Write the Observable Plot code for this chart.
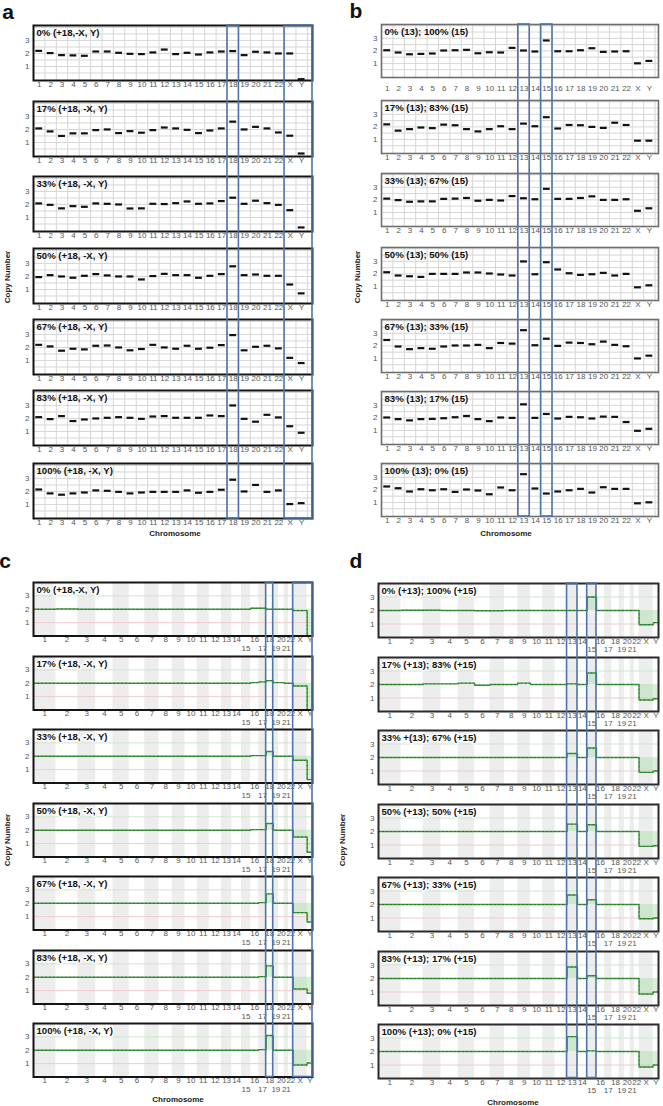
<!DOCTYPE html>
<html><head><meta charset="utf-8">
<script src="https://cdn.jsdelivr.net/npm/d3@7"></script>
<script src="https://cdn.jsdelivr.net/npm/@observablehq/plot@0.6"></script>
<style>
body{margin:0;background:#fff;}
#fig{position:relative;width:663px;height:1106px;overflow:hidden;background:#fff;font-family:"Liberation Sans",Arial,sans-serif;}
#fig svg{position:absolute;overflow:visible;}
</style></head>
<body><div id="fig"></div>
<script>
// ---------- DATA ----------
const chromosomes = ["1","2","3","4","5","6","7","8","9","10","11","12","13","14","15","16","17","18","19","20","21","22","X","Y"];
const chromLengthMb = [249.25,243.2,198.0,191.15,180.9,171.1,159.1,146.4,141.2,135.5,135.0,133.85,115.2,107.35,102.5,90.35,81.2,78.1,59.1,63.0,48.1,51.3,155.3,59.4];
const shadedChromosomes = ["1","3","5","7","9","11","13","15","17","19","21","X"];
const secondLineLabels = ["15","17","19","21"];

const aLabels = ["0% (+18,-X, Y)","17% (+18, -X, Y)","33% (+18, -X, Y)","50% (+18, -X, Y)","67% (+18, -X, Y)","83% (+18, -X, Y)","100% (+18, -X, Y)"];
const aValues = [
  [2.2,2.03,1.87,1.85,1.82,2.15,2.15,2.05,1.97,1.95,2.08,2.3,1.95,2.05,1.92,2.08,2.15,2.18,1.87,2.13,2.08,2.0,2.0,0.02],
  [2.08,1.85,1.5,1.7,1.7,1.95,2.0,1.72,1.87,1.75,1.95,2.15,2.08,1.97,1.72,1.92,2.08,2.6,2.0,2.2,2.08,1.77,1.52,0.15],
  [2.08,1.97,1.7,1.87,1.82,2.08,2.05,2.0,1.69,1.7,2.05,2.03,2.1,2.23,2.05,2.08,2.26,2.52,2.05,2.29,2.1,1.97,1.56,0.23],
  [1.95,2.1,2.0,1.9,2.05,2.18,2.08,2.0,2.0,1.77,2.03,2.2,2.1,2.1,1.9,2.05,2.18,2.78,2.1,2.15,2.05,2.05,1.38,0.7],
  [2.2,2.08,1.75,1.9,1.85,2.13,2.15,2.0,1.78,1.88,2.2,2.0,1.9,2.13,1.9,1.98,2.18,2.95,1.78,2.05,2.13,1.93,1.2,0.8],
  [2.1,1.95,2.18,1.8,1.92,2.0,2.05,2.1,2.05,1.97,2.15,2.18,2.05,2.05,2.05,2.23,2.18,3.0,1.97,1.75,2.28,2.08,1.4,0.9],
  [2.15,1.85,1.75,1.85,1.92,2.08,2.05,1.97,1.85,1.92,1.97,1.97,1.97,2.08,1.9,1.97,2.13,2.9,2.0,2.5,1.97,2.08,1.03,1.1]
];
const aHighlight = [["18"],["X","Y"]];

const bLabels = ["0% (13); 100% (15)","17% (13); 83% (15)","33% (13); 67% (15)","50% (13); 50% (15)","67% (13); 33% (15)","83% (13); 17% (15)","100% (13); 0% (15)"];
const bValues = [
  [2.05,1.87,1.73,1.76,1.79,2.03,2.05,2.08,1.81,1.89,1.87,2.24,2.03,1.95,2.83,1.97,1.97,2.05,2.21,1.92,1.95,1.97,1.01,1.2],
  [2.2,1.7,1.82,1.95,1.9,2.18,2.13,1.82,1.64,1.82,2.05,1.82,2.26,2.05,2.77,1.87,2.15,2.13,2.0,1.92,2.33,2.15,0.9,0.9],
  [2.1,1.98,1.85,1.88,1.88,2.08,2.1,2.15,1.93,2.0,1.95,2.3,2.13,2.05,2.88,2.08,2.08,2.15,2.28,2.0,2.0,2.05,1.13,1.33],
  [2.13,1.87,1.81,1.76,2.0,2.0,2.0,2.11,2.11,2.03,1.95,1.87,2.99,1.97,2.93,2.35,2.05,1.92,1.97,2.08,1.87,2.0,0.93,1.09],
  [2.47,1.95,1.74,1.82,1.77,1.95,2.03,2.03,2.08,1.82,2.23,2.18,3.25,2.05,2.57,2.0,2.26,2.23,2.13,2.34,2.08,1.97,1.0,1.22],
  [2.03,1.9,1.8,1.9,1.92,1.97,2.05,2.15,1.9,1.74,2.03,2.0,3.08,2.0,2.31,1.95,2.08,2.05,1.95,2.1,2.08,1.67,0.97,1.13],
  [2.27,2.13,1.87,2.05,1.97,2.05,1.84,2.03,1.95,1.65,2.19,1.97,3.25,2.11,1.71,1.87,1.97,2.08,1.79,2.21,2.08,2.08,0.93,1.01]
];
const bHighlight = [["13"],["15"]];

const cLabels = ["0% (+18,-X, Y)","17% (+18, -X, Y)","33% (+18, -X, Y)","50% (+18, -X, Y)","67% (+18, -X, Y)","83% (+18, -X, Y)","100% (+18, -X, Y)"];
const cValues = [
  [2.0,2.02,2.0,2.0,2.0,2.0,2.0,2.0,2.0,2.0,2.0,2.0,2.0,2.0,2.0,2.08,2.08,2.0,2.0,2.0,2.0,2.0,1.9,0.0],
  [2.0,2.0,2.0,2.0,2.0,2.0,2.0,2.0,2.0,2.0,2.0,2.0,2.0,2.0,2.0,2.05,2.1,2.2,2.05,2.05,2.0,2.0,1.8,0.0],
  [2.0,2.0,2.0,2.0,2.0,2.0,2.0,2.0,2.0,2.0,2.0,2.0,2.0,2.0,2.0,2.05,2.05,2.35,2.0,2.0,2.0,2.0,1.7,0.25],
  [2.0,2.0,2.0,2.0,2.0,2.0,2.0,2.0,2.0,2.0,2.0,2.0,2.0,2.0,2.0,2.05,2.05,2.5,2.0,2.0,2.0,2.0,1.5,0.35],
  [2.0,2.0,2.0,2.0,2.0,2.0,2.0,2.0,2.0,2.0,2.0,2.0,2.0,2.0,2.0,2.0,2.05,2.7,2.0,2.0,2.0,2.0,1.3,0.6],
  [2.0,2.0,2.0,2.0,2.0,2.0,2.0,2.0,2.0,2.0,2.0,2.0,2.0,2.0,2.0,2.0,2.05,2.85,2.0,2.0,2.0,2.0,1.12,0.8],
  [2.0,2.0,2.0,2.0,2.0,2.0,2.0,2.0,2.0,2.0,2.0,2.0,2.0,2.0,2.0,2.0,2.05,3.1,2.0,2.0,2.0,2.0,0.9,1.05]
];
const cHighlight = [["18"],["X","Y"]];

const dLabels = ["0% (+13); 100% (+15)","17% (+13); 83% (+15)","33% +(13); 67% (+15)","50% (+13); 50% (+15)","67% (+13); 33% (+15)","83% (+13); 17% (+15)","100% (+13); 0% (+15)"];
const dValues = [
  [2.0,2.02,2.02,2.0,2.0,1.98,1.98,2.0,2.0,2.0,2.0,2.0,2.0,2.0,3.0,2.0,2.0,2.0,2.0,2.0,2.0,2.0,0.95,1.1],
  [2.0,2.0,2.05,2.05,2.1,1.95,2.0,2.0,2.1,2.0,2.0,2.0,2.05,2.0,2.85,2.0,2.0,2.0,2.0,2.0,2.0,2.0,0.85,0.95],
  [2.0,2.0,2.0,2.0,2.0,2.0,2.0,2.0,2.0,2.0,2.0,2.0,2.3,2.0,2.7,2.0,2.0,2.0,2.0,2.0,2.0,2.0,0.9,1.0],
  [2.0,2.0,2.0,2.0,2.0,2.0,2.0,2.0,2.0,2.0,2.0,2.0,2.55,2.0,2.5,2.0,2.0,2.0,2.0,2.0,2.0,2.0,0.9,0.95],
  [2.0,2.0,2.0,2.0,2.0,2.0,2.0,2.0,2.0,2.0,2.0,2.0,2.7,2.0,2.35,2.0,2.0,2.0,2.0,2.0,2.0,2.0,0.95,1.0],
  [2.0,2.0,2.0,2.0,2.0,2.0,2.0,2.0,2.0,2.0,2.0,2.0,2.85,2.0,2.2,2.0,2.0,2.0,2.0,2.0,2.0,2.0,0.85,1.0],
  [2.0,2.0,2.0,2.0,2.0,2.0,2.0,2.0,2.0,2.0,2.0,2.0,3.1,2.0,2.05,2.0,2.0,2.0,2.0,2.0,2.0,2.0,0.85,1.0]
];
const dHighlight = [["13"],["15"]];

// ---------- LAYOUT ----------
const fig = document.getElementById("fig");
const FONT = "'Liberation Sans',Arial,sans-serif";
const BLUE = "#4f74a8";

function put(node, left, top) {
  node.style.position = "absolute";
  node.style.left = left + "px";
  node.style.top = top + "px";
  fig.appendChild(node);
}
function htmlText(text, cx, cy, css, rotate) {
  const d = document.createElement("div");
  d.textContent = text;
  d.style.cssText = `position:absolute;left:${cx}px;top:${cy}px;transform:translate(-50%,-50%)${rotate ? " rotate(-90deg)" : ""};white-space:nowrap;line-height:1;${css}`;
  fig.appendChild(d);
}

const starts = [];
chromLengthMb.reduce((acc, L, i) => { starts[i] = acc; return acc + L; }, 0);
const genomeTotal = d3.sum(chromLengthMb);

const A = {left:0, width:330, ml:33, mr:18, xmax:24.95, ydom:[-0.08,4.15], frameH:55, tops:[25,101,176,248,319,390,463], stroke:"#141414", sw:2, pad:[1,1,1,1,1,1,1]};
const B = {left:330, width:333, ml:51, mr:5, xmax:24.8, ydom:[-0.12,4.1], frameH:53, tops:[24,100,173,247,319,391,463], stroke:"#6e6e6e", sw:1.6, pad:[8,1,1,1,1,1,1]};
const C = {left:0, width:330, ml:33, mr:18, frameH:53.5, tops:[582,655.5,729,802.5,876,949.5,1023], stroke:"#141414", sw:2};
const D = {left:330, width:333, ml:48, mr:5, frameH:54, tops:[583,656.5,730,803.5,877,950.5,1023.5], stroke:"#2a2a2a", sw:2};

const rowLabelStyle = {frameAnchor: "top-left", dx: 3, dy: 4, text: d => d, fontWeight: "bold", fontSize: 9.6, fill: "#111", lineAnchor: "top", letterSpacing: "-0.3px"};

function barPanel(values, label, o, r) {
  const data = chromosomes.map((c, i) => ({i: i + 1, c, v: values[i]}));
  const mt = 1, mb = 16;
  return Plot.plot({
    width: o.width, height: o.frameH + mt + mb,
    marginLeft: o.ml, marginRight: o.mr, marginTop: mt, marginBottom: mb,
    style: {fontFamily: FONT, fontSize: "8px", color: "#555", background: "transparent"},
    x: {domain: [0.5, o.xmax], ticks: d3.range(1, 25), tickFormat: i => chromosomes[i - 1], tickSize: 0, tickPadding: o.pad[r], label: null},
    y: {domain: o.ydom, ticks: [1, 2, 3], tickFormat: d => String(d), tickSize: 0, tickPadding: 4, label: null},
    marks: [
      Plot.ruleX(d3.range(1.5, 25, 1), {stroke: "#d6d6d6", strokeWidth: 1}),
      Plot.ruleY(d3.range(0.5, 4.01, 0.5), {stroke: "#d6d6d6", strokeWidth: 1}),
      Plot.ruleY(data, {y: "v", x1: d => d.i - 0.3, x2: d => d.i + 0.3, stroke: "#111", strokeWidth: 2.2}),
      Plot.frame({stroke: o.stroke, strokeWidth: o.sw}),
      Plot.text([label], {...rowLabelStyle})
    ]
  });
}

function genomePanel(values, label, o) {
  const segs = chromosomes.map((c, i) => ({c, s: starts[i], e: starts[i] + chromLengthMb[i], v: values[i]}));
  const pts = segs.flatMap(d => [{p: d.s, v: d.v}, {p: d.e, v: d.v}]);
  const mt = 1, mb = 22;
  return Plot.plot({
    width: o.width, height: o.frameH + mt + mb,
    marginLeft: o.ml, marginRight: o.mr, marginTop: mt, marginBottom: mb,
    style: {fontFamily: FONT, fontSize: "8px", color: "#555", background: "transparent"},
    x: {domain: [0, genomeTotal], axis: null},
    y: {domain: [0, 4], ticks: [1, 2, 3], tickFormat: d => String(d), tickSize: 0, tickPadding: 4, label: null},
    marks: [
      Plot.rect(segs.filter(d => shadedChromosomes.includes(d.c)), {x1: "s", x2: "e", y1: 0, y2: 4, fill: "#ededed"}),
      Plot.ruleY([3], {stroke: "#cfe6cf"}),
      Plot.ruleY([1], {stroke: "#f0cccc"}),
      Plot.areaY(pts, {x: "p", y1: 2, y2: "v", fill: "#a9dca9", fillOpacity: 0.45}),
      Plot.line(pts, {x: "p", y: "v", stroke: "#3c9c3c", strokeWidth: 1.4}),
      Plot.line(pts, {x: "p", y: "v", stroke: "#1d3d1d", strokeWidth: 0.8, strokeDasharray: "1 3", strokeOpacity: 0.6}),
      Plot.text(segs.filter(d => !secondLineLabels.includes(d.c)), {x: d => (d.s + d.e) / 2, text: "c", frameAnchor: "bottom", dy: 6, fill: "#555"}),
      Plot.text(segs.filter(d => secondLineLabels.includes(d.c)), {x: d => (d.s + d.e) / 2, text: "c", frameAnchor: "bottom", dy: 14.5, fill: "#555"}),
      Plot.frame({stroke: o.stroke, strokeWidth: o.sw}),
      Plot.text([label], {...rowLabelStyle, stroke: "white", strokeWidth: 3})
    ]
  });
}

function overlay(o, xDomain, boxes, height) {
  return Plot.plot({
    width: o.width, height: height + 2,
    marginLeft: o.ml, marginRight: o.mr, marginTop: 1, marginBottom: 1,
    x: {domain: xDomain, axis: null},
    y: {domain: [0, 1], axis: null},
    style: {background: "transparent"},
    marks: [Plot.rect(boxes, {x1: "x1", x2: "x2", y1: 0, y2: 1, stroke: BLUE, strokeWidth: 1.6, fill: "none"})]
  });
}

function catBoxes(groups, xmax) {
  return groups.map(g => {
    const i0 = chromosomes.indexOf(g[0]) + 1, i1 = chromosomes.indexOf(g[g.length - 1]) + 1;
    return {x1: i0 - 0.5, x2: g[g.length - 1] === "Y" ? xmax : i1 + 0.5};
  });
}
function genomeBoxes(groups) {
  return groups.map(g => {
    const i0 = chromosomes.indexOf(g[0]), i1 = chromosomes.indexOf(g[g.length - 1]);
    return {x1: starts[i0], x2: starts[i1] + chromLengthMb[i1]};
  });
}

[[A, aValues, aLabels], [B, bValues, bLabels]].forEach(([o, vals, labs]) => {
  vals.forEach((v, r) => put(barPanel(v, labs[r], o, r), o.left, o.tops[r] - 1));
});
[[C, cValues, cLabels], [D, dValues, dLabels]].forEach(([o, vals, labs]) => {
  vals.forEach((v, r) => put(genomePanel(v, labs[r], o), o.left, o.tops[r] - 1));
});
put(overlay(A, [0.5, A.xmax], catBoxes(aHighlight, A.xmax), A.tops[6] + A.frameH - A.tops[0]), A.left, A.tops[0] - 1);
put(overlay(B, [0.5, B.xmax], catBoxes(bHighlight, B.xmax), B.tops[6] + B.frameH - B.tops[0]), B.left, B.tops[0] - 1);
put(overlay(C, [0, genomeTotal], genomeBoxes(cHighlight), C.tops[6] + C.frameH - C.tops[0]), C.left, C.tops[0] - 1);
put(overlay(D, [0, genomeTotal], genomeBoxes(dHighlight), D.tops[6] + D.frameH - D.tops[0]), D.left, D.tops[0] - 1);

const letterCss = "font-family:'Liberation Sans',Arial,sans-serif;font-weight:bold;font-size:21px;color:#111;";
htmlText("a", 8, 11, letterCss);
htmlText("b", 356, 10, letterCss);
htmlText("c", 5, 560, letterCss);
htmlText("d", 356, 560, letterCss);
const titleCss = "font-family:'Liberation Sans',Arial,sans-serif;font-weight:bold;font-size:8px;color:#222;";
htmlText("Copy Number", 8, 277, titleCss, true);
htmlText("Copy Number", 358, 277, titleCss, true);
htmlText("Copy Number", 8, 840, titleCss, true);
htmlText("Copy Number", 343, 840, titleCss, true);
htmlText("Chromosome", 175, 534, titleCss);
htmlText("Chromosome", 506, 534, titleCss);
htmlText("Chromosome", 178, 1100, titleCss);
htmlText("Chromosome", 513, 1103, titleCss);
</script></body></html>
